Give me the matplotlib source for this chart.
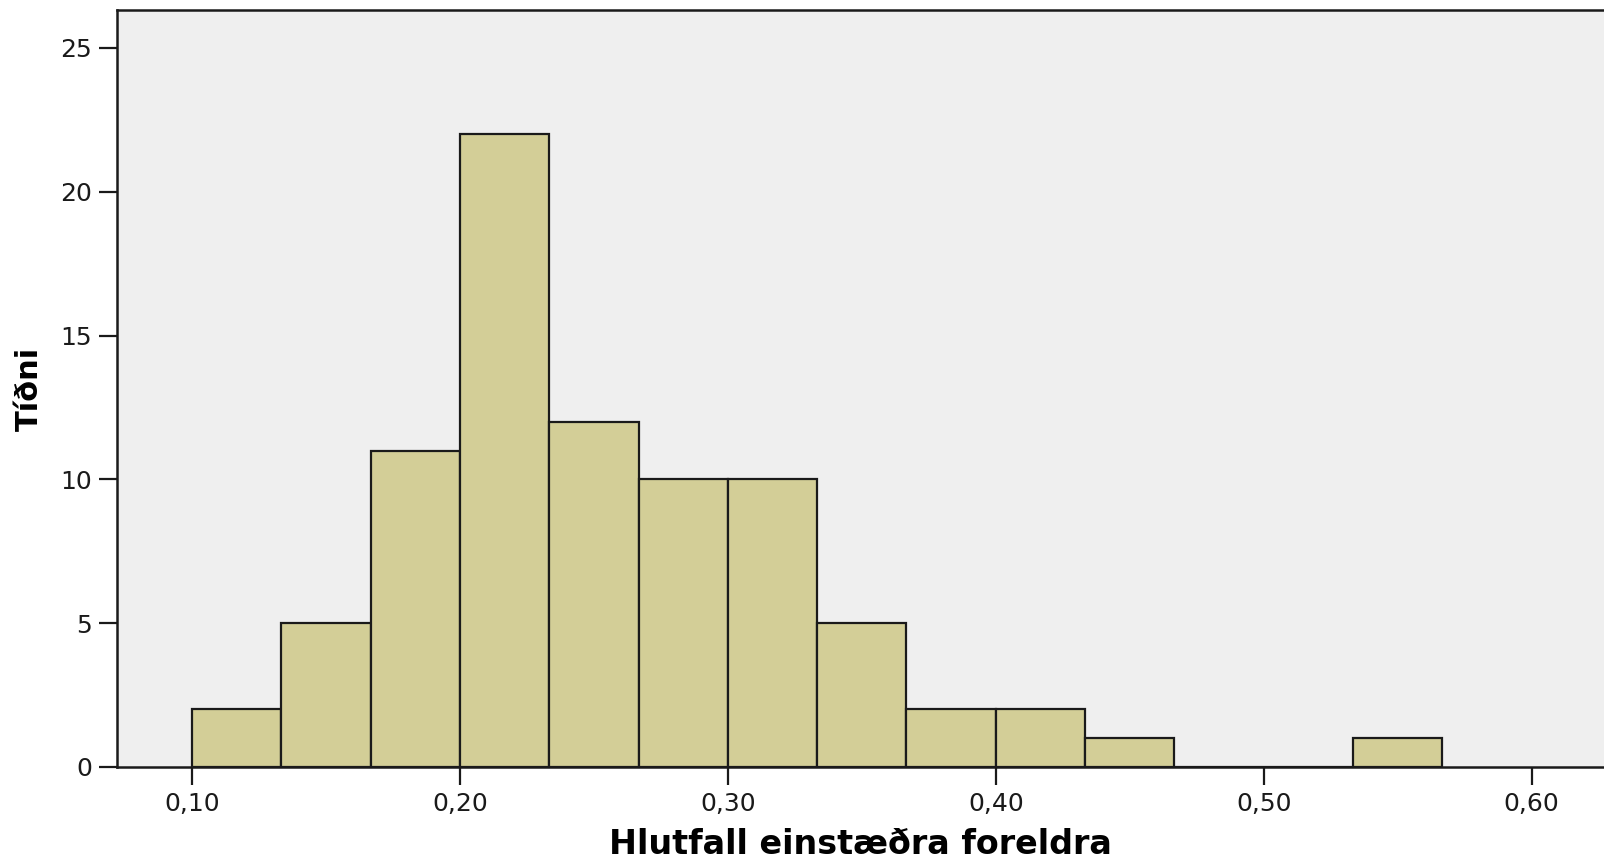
import matplotlib
matplotlib.use("Agg")
import matplotlib.pyplot as plt
import numpy as np

# Data
bin_edges = [0.1 + i / 30 for i in range(15)]
counts = [2, 5, 11, 22, 12, 10, 10, 5, 2, 2, 1, 0, 0, 1]
xticks = [0.10, 0.20, 0.30, 0.40, 0.50, 0.60]
xtick_labels = ["0,10", "0,20", "0,30", "0,40", "0,50", "0,60"]
yticks = [0, 5, 10, 15, 20, 25]
xlabel = "Hlutfall einstæðra foreldra"
ylabel = "Tíðni"

fig = plt.figure(figsize=(16.04, 8.64), dpi=100)
ax = fig.add_axes([0.0729, 0.1123, 0.9271, 0.8761])
ax.set_facecolor("#EFEFEF")

left = np.array(bin_edges[:-1])
widths = np.diff(bin_edges)
ax.bar(left, counts, width=widths, align="edge", color="#D3CE97",
       edgecolor="#1a1a1a", linewidth=1.6, zorder=3)

ax.set_xlim(0.072, 0.627)
ax.set_ylim(0, 26.32)
ax.set_xticks(xticks)
ax.set_xticklabels(xtick_labels)
ax.set_yticks(yticks)
ax.tick_params(axis="both", direction="out", length=13, width=1.6,
               labelsize=18, colors="#1a1a1a", pad=5)
for s in ["left", "top", "bottom"]:
    ax.spines[s].set_linewidth(1.8)
    ax.spines[s].set_color("#1a1a1a")
ax.spines["right"].set_visible(False)

ax.set_xlabel(xlabel, fontsize=24, fontweight="bold", labelpad=9)
ax.set_ylabel(ylabel, fontsize=22, fontweight="bold", labelpad=12)

fig.savefig("out.png", dpi=100)
